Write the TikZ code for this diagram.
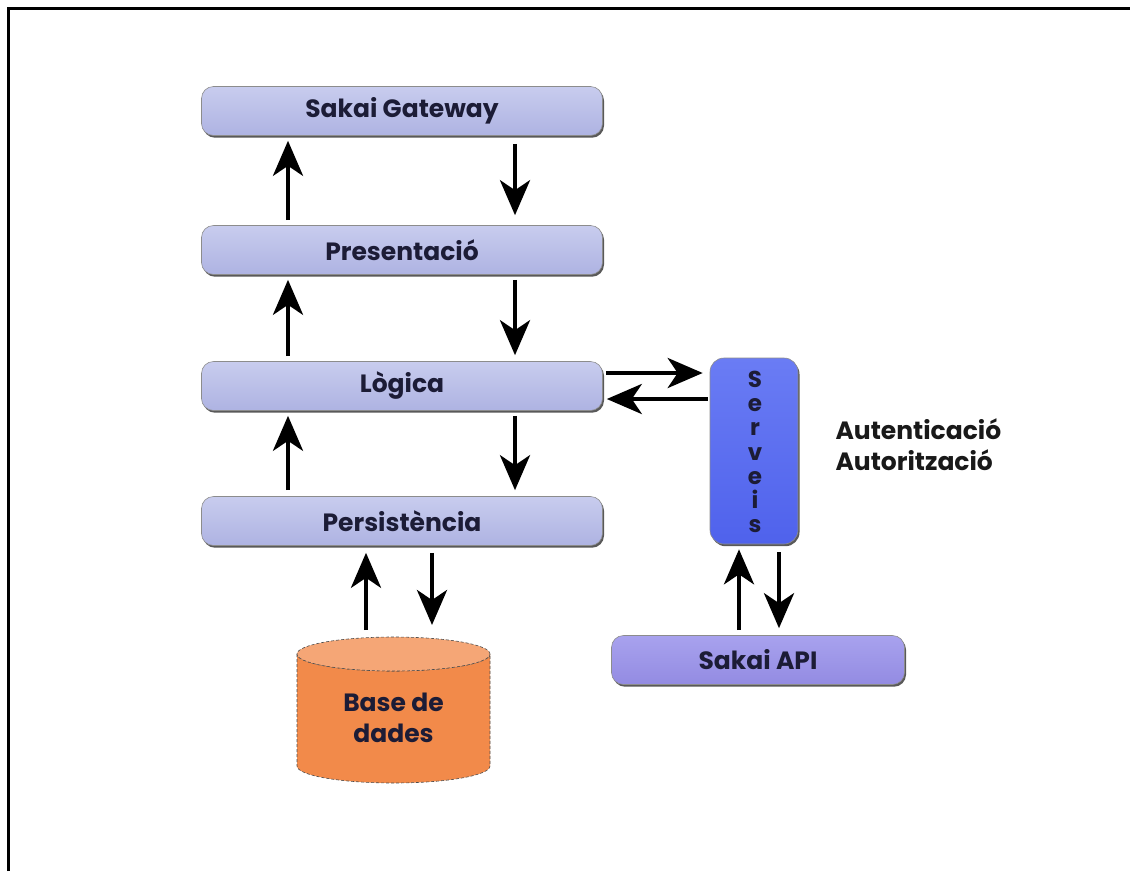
\documentclass[tikz,border=0pt]{standalone}
\usepackage{fontspec}
\setmainfont{Poppins}
\usetikzlibrary{arrows.meta,shadows,calc}
\definecolor{boxtop}{HTML}{C8CCEE}
\definecolor{boxbot}{HTML}{AEB3E2}
\definecolor{svtop}{HTML}{6A7CF4}
\definecolor{svbot}{HTML}{4F62EC}
\definecolor{apitop}{HTML}{A8A2EE}
\definecolor{apibot}{HTML}{938BE2}
\definecolor{dbside}{HTML}{F28A4A}
\definecolor{dbtop}{HTML}{F5A676}
\definecolor{txt}{HTML}{1C1C36}
\tikzset{
  layer/.style={rounded corners=12pt, minimum width=401pt, minimum height=49pt,
    top color=boxtop, bottom color=boxbot, draw=black!45, line width=0.6pt,
    drop shadow={shadow xshift=1.5pt, shadow yshift=-2.2pt, fill=black!65, opacity=1},
    font=\bfseries\fontsize{25}{28}\selectfont, text=txt},
  arr/.style={line width=4.4pt, -{Stealth[length=35pt, width=30pt, inset=10pt]}},
}
\begin{document}
\begin{tikzpicture}[x=1pt,y=-1pt]
\useasboundingbox (0,0) rectangle (1130,871);
\fill[white] (0,0) rectangle (1130,871);
% frame (top and left edges)
\draw[line width=3pt] (8,871) -- (8,8.5) -- (1130,8.5);

% layers
\node[layer] (gw) at (402,111) {Sakai Gateway};
\node[layer] (pr) at (402,250) {Presentació};
\node[layer] (lo) at (402,386) {Lògica};
\node[layer] (pe) at (402,521) {Persistència};

% serveis
\node[rounded corners=14pt, minimum width=88pt, minimum height=186pt,
  top color=svtop, bottom color=svbot, draw=black!45, line width=0.6pt,
  drop shadow={shadow xshift=1.5pt, shadow yshift=-2.2pt, fill=black!65, opacity=1}]
  (sv) at (754,451) {};
\node[align=center, text=txt, font=\bfseries\fontsize{23}{24.2}\selectfont] (svt) at (755,452) {S\\e\\r\\v\\e\\i\\s};

% sakai api
\node[layer, minimum width=293pt, top color=apitop, bottom color=apibot] (api) at (758,660) {Sakai API};

% autenticacio text
\node[anchor=west, align=left, text=black!90, font=\bfseries\fontsize{25}{31}\selectfont] (auth) at (832,445) {Autenticació\\Autorització};

% database cylinder
\fill[dbside, draw=black!70, densely dashed, line width=0.6pt]
  (297,654) -- (297,766) arc[start angle=180, end angle=360, x radius=96.5pt, y radius=17pt]
  -- (490,654) arc[start angle=0, end angle=180, x radius=96.5pt, y radius=-17pt] -- cycle;
\fill[dbtop, draw=black!70, densely dashed, line width=0.6pt]
  (393.5,654) ellipse[x radius=96.5pt, y radius=17pt];
\node[text=txt, align=center, font=\bfseries\fontsize{25}{31}\selectfont] (db) at (393.5,718) {Base de\\dades};
\coordinate (dbtopc) at (393.5,637);

% vertical arrow x positions
\coordinate (xl) at (288,0);
\coordinate (xr) at (515,0);
\coordinate (xd1) at (366,0);
\coordinate (xd2) at (432,0);
\coordinate (xs1) at (739,0);
\coordinate (xs2) at (779,0);

\draw[arr, shorten <=5pt, shorten >=5pt] (pr.north -| xl) -- (gw.south -| xl);
\draw[arr, shorten <=8pt, shorten >=10pt] (gw.south -| xr) -- (pr.north -| xr);
\draw[arr, shorten <=5pt, shorten >=5pt] (lo.north -| xl) -- (pr.south -| xl);
\draw[arr, shorten <=5pt, shorten >=6pt] (pr.south -| xr) -- (lo.north -| xr);
\draw[arr, shorten <=6pt, shorten >=5pt] (pe.north -| xl) -- (lo.south -| xl);
\draw[arr, shorten <=5pt, shorten >=6pt] (lo.south -| xr) -- (pe.north -| xr);

\draw[arr, shorten <=7pt, shorten >=7pt] (dbtopc -| xd1) -- (pe.south -| xd1);
\draw[arr, shorten <=7pt, shorten >=12pt] (pe.south -| xd2) -- (dbtopc -| xd2);

\draw[arr, shorten <=5pt, shorten >=5pt] (api.north -| xs1) -- (sv.south -| xs1);
\draw[arr, shorten <=8pt, shorten >=7pt] (sv.south -| xs2) -- (api.north -| xs2);

% horizontal arrows
\coordinate (yh1) at (0,373);
\coordinate (yh2) at (0,399);
\draw[arr, shorten <=3pt, shorten >=7pt] (lo.east |- yh1) -- (sv.west |- yh1);
\draw[arr, shorten <=2pt, shorten >=4pt] (sv.west |- yh2) -- (lo.east |- yh2);
\end{tikzpicture}
\end{document}
